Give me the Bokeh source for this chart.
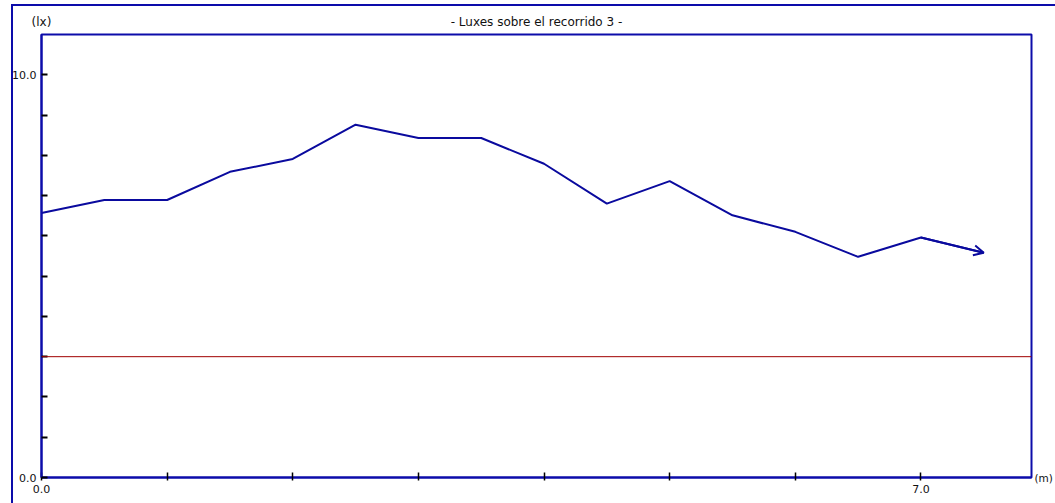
from bokeh.plotting import figure
from bokeh.models import (FixedTicker, Span, Arrow, OpenHead, Range1d,
                          LinearAxis)
from bokeh.embed import file_html
from bokeh.resources import INLINE

# ---- data ----
distance_m = [0.0, 0.5, 1.0, 1.5, 2.0, 2.5, 3.0, 3.5, 4.0, 4.5, 5.0, 5.5,
              6.0, 6.5, 7.0, 7.5]
luxes = [6.57, 6.89, 6.89, 7.59, 7.91, 8.76, 8.43, 8.43, 7.79, 6.80, 7.36,
         6.51, 6.10, 5.48, 5.96, 5.58]
reference_lux = 3.0
x_ticks = [0, 1, 2, 3, 4, 5, 6, 7]
x_labels = {0: "0.0", 7: "7.0"}
y_ticks = [0, 1, 2, 3, 4, 5, 6, 7, 8, 9, 10]
y_labels = {0: "0.0", 10: "10.0"}
title_text = "- Luxes sobre el recorrido 3 -"
y_unit = "(lx)"
x_unit = "(m)"
X_MAX = 7.88
Y_MAX = 11.0

FONT = "DejaVu Sans"
BLUE = "#0c0caa"
LINE_BLUE = "#0a0a9e"
RED = "#a00000"
W, H = 1055, 503

p = figure(width=W, height=H, x_range=Range1d(0, X_MAX),
           y_range=Range1d(0, Y_MAX), output_backend="svg",
           toolbar_location=None, title=None,
           min_border_left=41, min_border_top=34, min_border_right=23,
           min_border_bottom=26)

p.background_fill_color = "white"
p.border_fill_color = None
# outer frame of the page (left and top edges; the others lie outside the window)
p.styles = {
    "background": (f"linear-gradient({BLUE},{BLUE}) 11px 5px / 2px 100% no-repeat, "
                   f"linear-gradient({BLUE},{BLUE}) 11px 4px / 100% 2px no-repeat, "
                   "white"),
}
p.outline_line_color = BLUE
p.outline_line_width = 2
p.xgrid.visible = False
p.ygrid.visible = False


def style_labels(ax, size="11px"):
    ax.major_label_text_font = FONT
    ax.major_label_text_font_size = size
    ax.major_label_text_color = "#111111"


# x axis
xa = p.xaxis[0]
xa.ticker = FixedTicker(ticks=x_ticks)
xa.major_label_overrides = {t: x_labels.get(t, "") for t in x_ticks}
xa.minor_tick_line_color = None
xa.major_tick_in = 5
xa.major_tick_out = 3
xa.major_tick_line_color = "black"
xa.major_tick_line_width = 1.5
xa.axis_line_color = BLUE
xa.axis_line_width = 2
xa.major_label_standoff = 4
style_labels(xa)

# y axis
ya = p.yaxis[0]
ya.ticker = FixedTicker(ticks=y_ticks)
ya.major_label_overrides = {t: y_labels.get(t, "") for t in y_ticks}
ya.minor_tick_line_color = None
ya.major_tick_in = 6
ya.major_tick_out = 0
ya.major_tick_line_color = "black"
ya.major_tick_line_width = 2
ya.axis_line_color = BLUE
ya.axis_line_width = 2
ya.major_label_standoff = 5
style_labels(ya)

# top strip: unit of the y axis at the left, title in the centre
title_pos = X_MAX / 2
top_ax = LinearAxis(ticker=FixedTicker(ticks=[0, title_pos]),
                    major_label_overrides={0: y_unit, title_pos: title_text},
                    axis_line_color=None, major_tick_line_color=None,
                    minor_tick_line_color=None, major_tick_in=0,
                    major_tick_out=0, major_label_standoff=6)
style_labels(top_ax, "12px")
p.add_layout(top_ax, "above")

# right strip: unit of the x axis next to the bottom-right corner
right_ax = LinearAxis(ticker=FixedTicker(ticks=[0]),
                      major_label_overrides={0: x_unit},
                      axis_line_color=None, major_tick_line_color=None,
                      minor_tick_line_color=None, major_tick_in=0,
                      major_tick_out=0, major_label_standoff=3)
style_labels(right_ax, "10.5px")
p.add_layout(right_ax, "right")

# reference red line
p.add_layout(Span(location=reference_lux, dimension="width",
                  line_color=RED, line_width=1))

# data line
p.line(distance_m, luxes, line_color=LINE_BLUE, line_width=2)
p.add_layout(Arrow(end=OpenHead(size=10, line_color=LINE_BLUE, line_width=2),
                   x_start=distance_m[-2], y_start=luxes[-2],
                   x_end=distance_m[-1], y_end=luxes[-1],
                   line_color=LINE_BLUE, line_width=2))

open("out.html", "w").write(file_html(p, INLINE))
